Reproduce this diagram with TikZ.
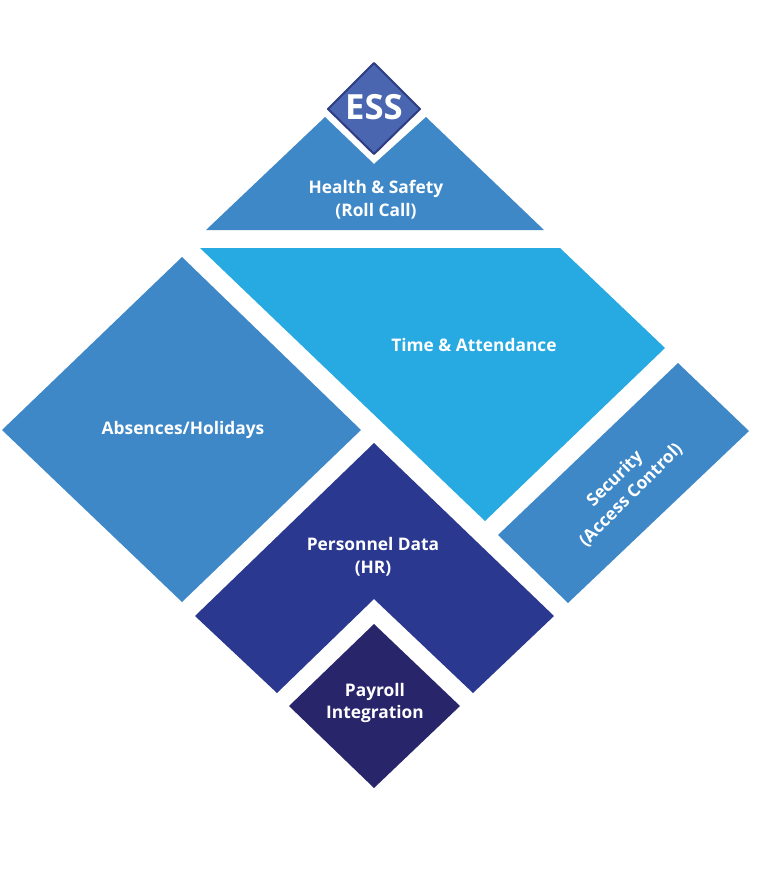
\documentclass[tikz,border=0pt]{standalone}
\usepackage{fontspec}
\setmainfont{Open Sans}
\definecolor{midblue}{HTML}{3F88C8}
\definecolor{cyanblue}{HTML}{27A9E1}
\definecolor{darkblue}{HTML}{2B388F}
\definecolor{navyblue}{HTML}{28256B}
\definecolor{essblue}{HTML}{4A66B0}
\definecolor{essline}{HTML}{2E3C82}
\begin{document}
\begin{tikzpicture}[x=0.75pt,y=-0.75pt,line join=round,
	lbl/.style={text=white,font=\bfseries\fontsize{13}{17}\selectfont,align=center,inner sep=0pt}]
		\useasboundingbox (0,0) rectangle (772,869);
		\fill[white] (0,0) rectangle (772,869);
		% tiles
		\fill[midblue] (206,230)--(325,117)--(374,164)--(426,117)--(544,230)--cycle;
		\fill[cyanblue] (200,248)--(560,248)--(665,348)--(485,521)--cycle;
		\fill[midblue] (182,257)--(361,430)--(182,602)--(2,430)--cycle;
		\fill[midblue] (678,363)--(749,431)--(568,603)--(498,535)--cycle;
		\fill[darkblue] (374,443)--(554,616)--(473,693)--(374,599)--(277,693)--(195,616)--cycle;
		\fill[navyblue] (374,624)--(460,706)--(374,788)--(289,706)--cycle;
		\draw[essline,fill=essblue,line width=1.5pt] (374,63)--(420,109)--(374,154)--(328,109)--cycle;
		% labels
		\node[lbl,font=\bfseries\fontsize{26}{30}\selectfont] (ess) at (374,107) {ESS};
		\node[lbl] (health) at (376,200) {Health \& Safety\\(Roll Call)};
		\node[lbl] (time) at (474,345) {Time \& Attendance};
		\node[lbl] (absence) at (183,430) {Absences/Holidays};
		\node[lbl,rotate=45] (security) at (623,487) {Security\\(Access Control)};
		\node[lbl] (personnel) at (373,557) {Personnel Data\\(HR)};
		\node[lbl] (payroll) at (375,703) {Payroll\\Integration};
		\end{tikzpicture}
\end{document}
